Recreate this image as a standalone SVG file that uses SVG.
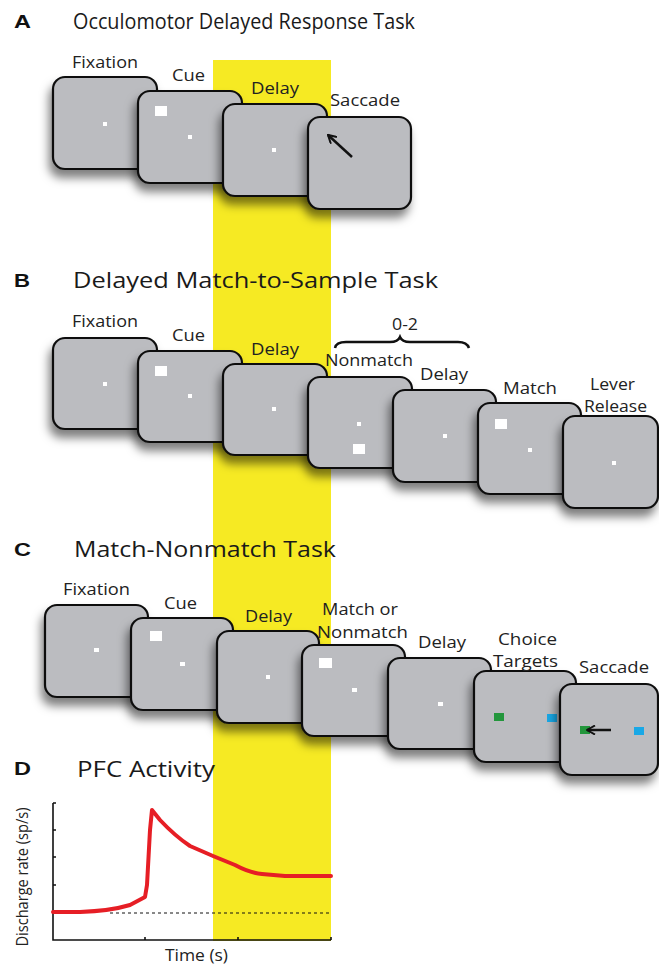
<svg xmlns="http://www.w3.org/2000/svg" width="659" height="967" viewBox="0 0 659 967">
<defs>
<filter id="sh" x="-30%" y="-30%" width="160%" height="170%">
<feDropShadow dx="-3" dy="8" stdDeviation="5" flood-color="#000" flood-opacity="0.5"/>
</filter>
<marker id="ah" viewBox="0 0 10 10" refX="9" refY="5" markerWidth="4" markerHeight="4" orient="auto" markerUnits="strokeWidth">
<path d="M1,0.5 L9,5 L1,9.5" fill="none" stroke="#111" stroke-width="2" stroke-linejoin="miter"/>
</marker>
<style>
.scr{fill:#bbbcc0;stroke:#111;stroke-width:2.2;filter:url(#sh)}
.dot{fill:#fff}
.lab{font-family:"Open Sans","Liberation Sans",sans-serif;font-size:16px;fill:#222}
.ttl{font-family:"Open Sans","Liberation Sans",sans-serif;font-size:22px;fill:#1a1a1a}
.pl{font-family:"Liberation Sans",Arial,sans-serif;font-size:19px;font-weight:bold;fill:#111}
.arr{stroke:#111;stroke-width:2.5;fill:none}
.ax{stroke:#111;stroke-width:1.6;fill:none}
</style>
</defs>
<rect width="659" height="967" fill="#fff"/>
<rect id="delay-band" x="213" y="60" width="118" height="881" fill="#f6ea23"/>

<!-- Panel A -->
<g id="panelA-title">
<text class="pl" x="14" y="28" textLength="17" lengthAdjust="spacingAndGlyphs">A</text>
<text class="ttl" x="73" y="29" textLength="342" lengthAdjust="spacingAndGlyphs">Occulomotor Delayed Response Task</text>
</g>
<g id="A-fixation">
<rect class="scr" x="53" y="77" width="104" height="92" rx="12"/>
<rect class="dot" x="103" y="122" width="4" height="4"/>
<text class="lab" x="72" y="68" textLength="66" lengthAdjust="spacingAndGlyphs">Fixation</text>
</g>
<g id="A-cue">
<rect class="scr" x="138" y="91" width="104" height="92" rx="12"/>
<rect class="dot" x="155" y="106" width="12" height="10"/>
<rect class="dot" x="188" y="135" width="4" height="4"/>
<text class="lab" x="172" y="81" textLength="33" lengthAdjust="spacingAndGlyphs">Cue</text>
</g>
<g id="A-delay">
<rect class="scr" x="223" y="104" width="104" height="92" rx="12"/>
<rect class="dot" x="272" y="148" width="4" height="4"/>
<text class="lab" x="251" y="94" textLength="48" lengthAdjust="spacingAndGlyphs">Delay</text>
</g>
<g id="A-saccade">
<rect class="scr" x="308" y="117" width="103" height="92" rx="12"/>
<line class="arr" x1="352" y1="157" x2="328" y2="135" marker-end="url(#ah)"/>
<text class="lab" x="330" y="106" textLength="70" lengthAdjust="spacingAndGlyphs">Saccade</text>
</g>

<!-- Panel B -->
<g id="panelB-title">
<text class="pl" x="14" y="287" textLength="16" lengthAdjust="spacingAndGlyphs">B</text>
<text class="ttl" x="73" y="288" textLength="365" lengthAdjust="spacingAndGlyphs">Delayed Match-to-Sample Task</text>
</g>
<g id="B-fixation">
<rect class="scr" x="53" y="338" width="104" height="91" rx="12"/>
<rect class="dot" x="103" y="382" width="4" height="4"/>
<text class="lab" x="72" y="327" textLength="66" lengthAdjust="spacingAndGlyphs">Fixation</text>
</g>
<g id="B-cue">
<rect class="scr" x="138" y="351" width="104" height="91" rx="12"/>
<rect class="dot" x="155" y="366" width="12" height="10"/>
<rect class="dot" x="188" y="394" width="4" height="4"/>
<text class="lab" x="172" y="341" textLength="33" lengthAdjust="spacingAndGlyphs">Cue</text>
</g>
<g id="B-delay">
<rect class="scr" x="223" y="364" width="104" height="91" rx="12"/>
<rect class="dot" x="272" y="407" width="4" height="4"/>
<text class="lab" x="251" y="355" textLength="48" lengthAdjust="spacingAndGlyphs">Delay</text>
</g>
<g id="B-nonmatch">
<rect class="scr" x="308" y="377" width="104" height="91" rx="12"/>
<rect class="dot" x="357" y="422" width="4" height="4"/>
<rect class="dot" x="353" y="444" width="12" height="10"/>
<text class="lab" x="325" y="366" textLength="88" lengthAdjust="spacingAndGlyphs">Nonmatch</text>
</g>
<g id="B-repeat">
<path class="arr" d="M335,348 Q336,342 346,342 L390,342 Q398,342 400,337 Q402,342 410,342 L458,342 Q467,342 469,348"/>
<text class="lab" x="392" y="330" textLength="26" lengthAdjust="spacingAndGlyphs">0-2</text>
</g>
<g id="B-delay2">
<rect class="scr" x="393" y="390" width="103" height="92" rx="12"/>
<rect class="dot" x="443" y="434" width="4" height="4"/>
<text class="lab" x="420" y="380" textLength="48" lengthAdjust="spacingAndGlyphs">Delay</text>
</g>
<g id="B-match">
<rect class="scr" x="478" y="403" width="103" height="91" rx="12"/>
<rect class="dot" x="495" y="419" width="12" height="10"/>
<rect class="dot" x="528" y="448" width="4" height="4"/>
<text class="lab" x="503" y="394" textLength="54" lengthAdjust="spacingAndGlyphs">Match</text>
</g>
<g id="B-lever">
<rect class="scr" x="563" y="416" width="95" height="92" rx="12"/>
<rect class="dot" x="612" y="461" width="4" height="4"/>
<text class="lab" x="590" y="390" textLength="45" lengthAdjust="spacingAndGlyphs">Lever</text>
<text class="lab" x="584" y="412" textLength="63" lengthAdjust="spacingAndGlyphs">Release</text>
</g>

<!-- Panel C -->
<g id="panelC-title">
<text class="pl" x="14" y="556" textLength="17" lengthAdjust="spacingAndGlyphs">C</text>
<text class="ttl" x="74" y="557" textLength="262" lengthAdjust="spacingAndGlyphs">Match-Nonmatch Task</text>
</g>
<g id="C-fixation">
<rect class="scr" x="45" y="605" width="103" height="92" rx="12"/>
<rect class="dot" x="94" y="648" width="5" height="4"/>
<text class="lab" x="63" y="595" textLength="67" lengthAdjust="spacingAndGlyphs">Fixation</text>
</g>
<g id="C-cue">
<rect class="scr" x="131" y="618" width="102" height="92" rx="12"/>
<rect class="dot" x="150" y="631" width="12" height="10"/>
<rect class="dot" x="180" y="662" width="5" height="4"/>
<text class="lab" x="164" y="609" textLength="33" lengthAdjust="spacingAndGlyphs">Cue</text>
</g>
<g id="C-delay">
<rect class="scr" x="217" y="631" width="102" height="92" rx="12"/>
<rect class="dot" x="266" y="675" width="4" height="4"/>
<text class="lab" x="245" y="622" textLength="47" lengthAdjust="spacingAndGlyphs">Delay</text>
</g>
<g id="C-matchornonmatch">
<rect class="scr" x="302" y="645" width="103" height="91" rx="12"/>
<rect class="dot" x="319" y="658" width="13" height="10"/>
<rect class="dot" x="352" y="688" width="5" height="4"/>
<text class="lab" x="322" y="615" textLength="76" lengthAdjust="spacingAndGlyphs">Match or</text>
<text class="lab" x="317" y="638" textLength="91" lengthAdjust="spacingAndGlyphs">Nonmatch</text>
</g>
<g id="C-delay2">
<rect class="scr" x="388" y="658" width="103" height="91" rx="12"/>
<rect class="dot" x="438" y="702" width="5" height="4"/>
<text class="lab" x="418" y="648" textLength="48" lengthAdjust="spacingAndGlyphs">Delay</text>
</g>
<g id="C-choice">
<rect class="scr" x="474" y="671" width="102" height="91" rx="12"/>
<rect x="494" y="713" width="10" height="8" fill="#23963c"/>
<rect x="547" y="714" width="10" height="8" fill="#19a8e6"/>
<text class="lab" x="498" y="645" textLength="59" lengthAdjust="spacingAndGlyphs">Choice</text>
<text class="lab" x="493" y="667" textLength="65" lengthAdjust="spacingAndGlyphs">Targets</text>
</g>
<g id="C-saccade">
<rect class="scr" x="560" y="684" width="98" height="91" rx="12"/>
<rect x="580" y="726" width="10" height="8" fill="#23963c"/>
<rect x="634" y="727" width="10" height="8" fill="#19a8e6"/>
<line class="arr" x1="611" y1="730" x2="587" y2="730" marker-end="url(#ah)"/>
<text class="lab" x="579" y="673" textLength="70" lengthAdjust="spacingAndGlyphs">Saccade</text>
</g>

<!-- Panel D -->
<g id="panelD">
<text class="pl" x="14" y="775" textLength="17" lengthAdjust="spacingAndGlyphs">D</text>
<text class="ttl" x="77" y="777" textLength="138" lengthAdjust="spacingAndGlyphs">PFC Activity</text>
<path class="ax" d="M53,803 L53,940 L331,940"/>
<path class="ax" d="M53,803 h3 M53,830 h3 M53,857 h3 M53,885 h3 M145,940 v-3 M238,940 v-3 M331,940 v-3"/>
<line x1="110" y1="913" x2="331" y2="913" stroke="#111" stroke-width="1" stroke-dasharray="3,3"/>
<path d="M53,912 L80,912 Q110,911 130,905 L145,897 L147,885 L150,830 L152,810 L160,820 Q175,836 190,846 L213,856 L235,865 Q250,873 262,874 L285,876 L331,876" fill="none" stroke="#e61e25" stroke-width="4" stroke-linejoin="round" stroke-linecap="round"/>
<text class="lab" transform="translate(28,877) rotate(-90)" x="0" y="0" text-anchor="middle" textLength="139" lengthAdjust="spacingAndGlyphs">Discharge rate (sp/s)</text>
<text class="lab" x="165" y="961" textLength="63" lengthAdjust="spacingAndGlyphs">Time (s)</text>
</g>
</svg>
